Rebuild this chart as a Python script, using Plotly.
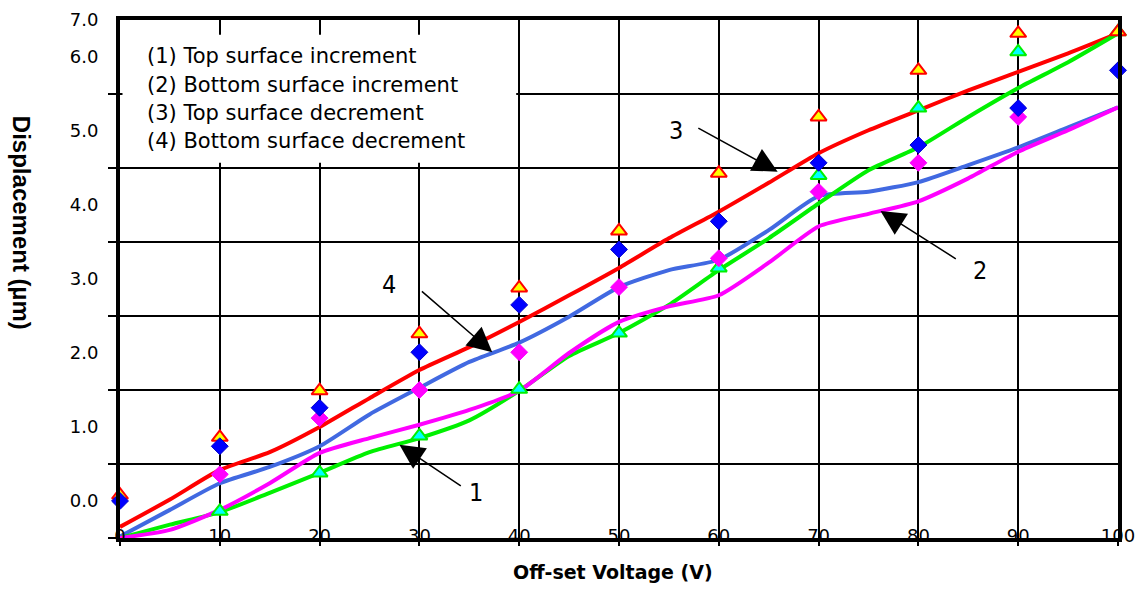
import plotly.graph_objects as go

# Voltage steps of the continuous curves (V)
voltage_fine = [0, 5, 10, 15, 20, 25, 30, 35, 40, 45, 50,
                55, 60, 65, 70, 75, 80, 85, 90, 95, 100]

# Continuous displacement curves (um)
top_inc_curve = [-0.50, -0.32, -0.15, 0.11, 0.38, 0.66, 0.85, 1.09, 1.49, 1.96, 2.27,
                 2.65, 3.12, 3.55, 4.02, 4.47, 4.78, 5.19, 5.58, 5.93, 6.32]
bottom_inc_curve = [-0.50, -0.39, -0.12, 0.24, 0.65, 0.85, 1.03, 1.23, 1.49, 2.00, 2.42,
                    2.63, 2.78, 3.22, 3.71, 3.88, 4.05, 4.36, 4.72, 5.01, 5.32]
top_dec_curve = [-0.35, 0.02, 0.42, 0.66, 1.00, 1.39, 1.77, 2.08, 2.42, 2.78, 3.15,
                 3.55, 3.91, 4.30, 4.70, 5.01, 5.28, 5.55, 5.80, 6.05, 6.32]
bottom_dec_curve = [-0.48, -0.12, 0.24, 0.46, 0.74, 1.17, 1.53, 1.88, 2.14, 2.49, 2.89,
                    3.12, 3.26, 3.66, 4.12, 4.18, 4.31, 4.54, 4.78, 5.05, 5.32]

# Discrete measurement points (um)
voltage_pts = [0, 10, 20, 30, 40, 50, 60, 70, 80, 90, 100]
top_dec_pts = [0.08, 0.86, 1.49, 2.26, 2.88, 3.65, 4.43, 5.19, 5.82, 6.32, 6.34]
bottom_dec_pts = [0.00, 0.74, 1.26, 2.01, 2.65, 3.40, 3.78, 4.57, 4.81, 5.31, 5.82]
voltage_inc_pts = [10, 20, 30, 40, 50, 60, 70, 80, 90, 100]
top_inc_pts = [-0.14, 0.38, 0.88, 1.51, 2.27, 3.15, 4.40, 5.31, 6.07, 6.34]
voltage_binc_pts = [10, 20, 30, 40, 50, 60, 70, 80, 90]
bottom_inc_pts = [0.36, 1.12, 1.50, 2.01, 2.89, 3.28, 4.18, 4.57, 5.19]

# Axis ticks
x_ticks = [0, 10, 20, 30, 40, 50, 60, 70, 80, 90, 100]
y_tickvals = [0, 1, 2, 3, 4, 5, 6, 6.5]
y_ticktext = ["0.0", "1.0", "2.0", "3.0", "4.0", "5.0", "6.0", "7.0"]
y_gridvals = [-0.5, 0.5, 1.5, 2.5, 3.5, 4.5, 5.5]

legend_lines = ["(1) Top surface increment",
                "(2) Bottom surface increment",
                "(3) Top surface decrement",
                "(4) Bottom surface decrement"]

# Curve callouts: label, label position, arrow tail, arrow tip
callout_labels = ["1", "2", "3", "4"]
callout_text_xy = [(35.7, 0.12), (86.2, 3.12), (55.7, 5.01), (27.0, 2.92)]
callout_tail_xy = [(34.3, 0.19), (83.9, 3.26), (57.8, 5.05), (30.1, 2.85)]
callout_tip_xy = [(28.0, 0.76), (76.2, 3.92), (65.9, 4.45), (37.3, 2.01)]

FONT = "DejaVu Sans"

fig = go.Figure()

curve_specs = [
    (top_dec_curve, "#FF0000"),
    (bottom_dec_curve, "#4169E1"),
    (top_inc_curve, "#00F000"),
    (bottom_inc_curve, "#FF00FF"),
]
for ys, col in curve_specs:
    fig.add_trace(go.Scatter(x=voltage_fine, y=ys, mode="lines",
                             line=dict(color=col, width=4, shape="spline", smoothing=0.6),
                             hoverinfo="skip"))

marker_specs = [
    (voltage_inc_pts, top_inc_pts, "triangle-up", 14, "#00FFFF", "#00F000", 2),
    (voltage_pts, top_dec_pts, "triangle-up", 14, "#FFFF00", "#FF0000", 2),
    (voltage_binc_pts, bottom_inc_pts, "diamond", 13, "#FF00FF", "#FF00FF", 1),
    (voltage_pts, bottom_dec_pts, "diamond", 13, "#0000FF", "#0000CC", 1),
]
for xs, ys, sym, sz, fill, edge, ew in marker_specs:
    fig.add_trace(go.Scatter(x=xs, y=ys, mode="markers", cliponaxis=False,
                             marker=dict(symbol=sym, size=sz, color=fill,
                                         line=dict(color=edge, width=ew))))

# White panel behind the legend text
fig.add_shape(type="rect", xref="x", yref="y", x0=0.25, x1=39.7, y0=4.57, y1=6.3,
              fillcolor="white", line=dict(width=0), layer="between")

annotations = []
legend_y = [6.01, 5.62, 5.25, 4.87]
for txt, ly in zip(legend_lines, legend_y):
    annotations.append(dict(x=2.5, y=ly, xref="x", yref="y", text=txt, showarrow=False,
                            xanchor="left", yanchor="middle",
                            font=dict(family=FONT, size=21, color="black")))

for lab, (tx, ty), (ax, ay), (px, py) in zip(callout_labels, callout_text_xy,
                                              callout_tail_xy, callout_tip_xy):
    annotations.append(dict(x=px, y=py, xref="x", yref="y", ax=ax, ay=ay,
                            axref="x", ayref="y", text="", showarrow=True,
                            arrowhead=2, arrowsize=3.3, arrowwidth=1.5,
                            arrowcolor="black"))
    annotations.append(dict(x=tx, y=ty, xref="x", yref="y", text=lab, showarrow=False,
                            xanchor="center", yanchor="middle",
                            font=dict(family="Liberation Sans Narrow, DejaVu Sans Condensed, sans-serif",
                                      size=25, color="black")))

annotations.append(dict(x=0.494, y=-0.066, xref="paper", yref="paper",
                        text="<b>Off-set Voltage (V)</b>", showarrow=False,
                        xanchor="center", yanchor="middle",
                        font=dict(family=FONT, size=19, color="black")))
annotations.append(dict(x=-0.098, y=0.608, xref="paper", yref="paper",
                        text="<b>Displacement (µm)</b>", showarrow=False, textangle=90,
                        xanchor="center", yanchor="middle",
                        font=dict(family="Liberation Sans", size=24, color="black")))

fig.update_layout(
    width=1138, height=589,
    margin=dict(l=120, r=20, t=20, b=51),
    paper_bgcolor="white", plot_bgcolor="white",
    showlegend=False,
    annotations=annotations,
    xaxis=dict(range=[0, 100], tickmode="array", tickvals=x_ticks, automargin=False,
               showgrid=True, gridcolor="black", gridwidth=1.5,
               showline=True, linecolor="black", linewidth=4, mirror=True,
               ticks="outside", ticklen=4, tickwidth=1.5, tickcolor="black",
               ticklabelstandoff=-26, zeroline=False,
               tickfont=dict(family=FONT, size=18, color="black")),
    yaxis=dict(range=[-0.5, 6.5], tickmode="array", tickvals=y_tickvals, automargin=False,
               ticktext=y_ticktext, showgrid=False, ticks="",
               showline=True, linecolor="black", linewidth=4, mirror=True,
               zeroline=False, ticklabelstandoff=14,
               tickfont=dict(family=FONT, size=18, color="black"),
               minor=dict(tickmode="array", tickvals=y_gridvals, ticks="outside",
                          ticklen=8, tickwidth=1.5, tickcolor="black",
                          showgrid=True, gridcolor="black", gridwidth=1.5)),
)

fig.write_html("out.html")
